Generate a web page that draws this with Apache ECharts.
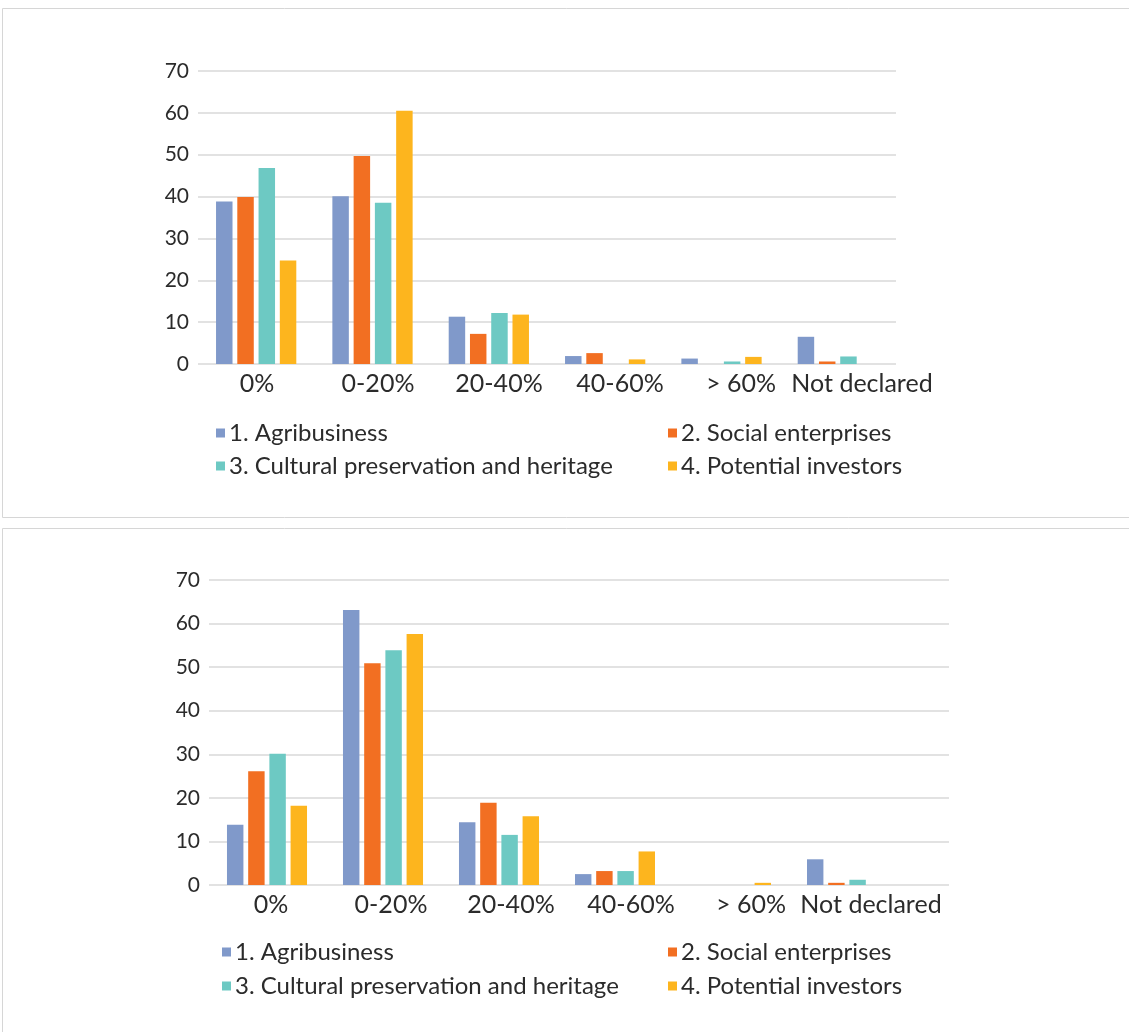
<!DOCTYPE html>
<html>
<head>
<meta charset="utf-8">
<script src="https://cdn.jsdelivr.net/npm/echarts@6/dist/echarts.min.js"></script>
<style>
html,body{margin:0;padding:0;background:#fff;}
#chart{width:1129px;height:1032px;}
</style>
</head>
<body>
<div id="chart"></div>
<script>
// ---- data ----
var categories = ['0%', '0-20%', '20-40%', '40-60%', '> 60%', 'Not declared'];
var seriesNames = ['1. Agribusiness', '2. Social enterprises', '3. Cultural preservation and heritage', '4. Potential investors'];
var colors = ['#8099CA', '#F26F22', '#6DC9C3', '#FDB51E'];
var yMin = 0, yMax = 70, yStep = 10;

// Chart 1 (top)
var agribusiness1 = [38.8, 40.1, 11.3, 1.9, 1.3, 6.5];
var social1       = [39.9, 49.7, 7.2, 2.6, 0, 0.6];
var cultural1     = [46.8, 38.5, 12.2, 0, 0.6, 1.8];
var investors1    = [24.7, 60.5, 11.8, 1.1, 1.7, 0];

// Chart 2 (bottom)
var agribusiness2 = [13.8, 63.1, 14.4, 2.5, 0, 5.9];
var social2       = [26.1, 50.9, 18.9, 3.2, 0, 0.5];
var cultural2     = [30.1, 53.9, 11.5, 3.2, 0, 1.2];
var investors2    = [18.2, 57.6, 15.8, 7.7, 0.5, 0];

var chartData = [
  [agribusiness1, social1, cultural1, investors1],
  [agribusiness2, social2, cultural2, investors2]
];

// ---- layout ----
var FONT = 'Lato';
var TXT = '#2b2b2b';
var GRIDC = '#d9d9d9';
var layouts = [
  { bars: {left:198, top:71, width:698, height:293},
    lines:{left:198, top:71, width:698, height:293},
    labels:{left:196.5, top:71, width:726, height:293},
    legend:{c1:216, c2:668, r1:421, r2:454} },
  { bars: {left:209, top:580, width:696, height:305},
    lines:{left:209, top:580, width:740, height:305},
    labels:{left:211, top:580, width:720, height:305},
    legend:{c1:222, c2:668, r1:940, r2:974} }
];

var grid = [], xAxis = [], yAxis = [], series = [], legend = [];
layouts.forEach(function (L, ci) {
  var base = grid.length;
  grid.push(Object.assign({containLabel:false}, L.bars));
  grid.push(Object.assign({containLabel:false}, L.lines));
  grid.push(Object.assign({containLabel:false}, L.labels));
  // bars grid axes
  xAxis.push({type:'category', gridIndex:base, data:categories, axisLine:{show:false}, axisTick:{show:false}, axisLabel:{show:false}});
  yAxis.push({type:'value', gridIndex:base, min:yMin, max:yMax, interval:yStep, show:false});
  // lines grid axes
  xAxis.push({type:'value', gridIndex:base+1, min:0, max:1, show:false});
  yAxis.push({type:'value', gridIndex:base+1, min:yMin, max:yMax, interval:yStep,
    axisLine:{show:false}, axisTick:{show:false},
    splitLine:{show:true, lineStyle:{color:GRIDC, width:1.5}},
    axisLabel:{show:true, color:TXT, fontFamily:FONT, fontSize:21, margin:9}});
  // labels grid axes
  xAxis.push({type:'category', gridIndex:base+2, data:categories, axisLine:{show:false}, axisTick:{show:false},
    axisLabel:{show:true, color:TXT, fontFamily:FONT, fontSize:25, margin:7, interval:0}});
  yAxis.push({type:'value', gridIndex:base+2, min:yMin, max:yMax, show:false});

  chartData[ci].forEach(function (vals, si) {
    series.push({
      type:'bar', name:seriesNames[si], xAxisIndex:base, yAxisIndex:base,
      data:vals, barGap:'29%', barCategoryGap:'31%',
      itemStyle:{color:colors[si]}, silent:true
    });
  });

  var pos = [[L.legend.c1, L.legend.r1],[L.legend.c2, L.legend.r1],[L.legend.c1, L.legend.r2],[L.legend.c2, L.legend.r2]];
  seriesNames.forEach(function (n, si) {
    legend.push({
      data:[n], left:pos[si][0], top:pos[si][1], padding:0,
      icon:'rect', itemWidth:9, itemHeight:9, selectedMode:false,
      textStyle:{color:TXT, fontFamily:FONT, fontSize:24, padding:[0,0,0,-1]}
    });
  });
});

var chart = echarts.init(document.getElementById('chart'), null, {renderer:'canvas'});
chart.setOption({
  animation:false,
  color:colors,
  grid:grid, xAxis:xAxis, yAxis:yAxis, series:series, legend:legend,
  graphic:[
    {type:'rect', shape:{x:2.5, y:8.5, width:1140, height:509}, style:{fill:'none', stroke:'#d6d6d6', lineWidth:1}, silent:true},
    {type:'rect', shape:{x:2.5, y:528.5, width:1140, height:520}, style:{fill:'none', stroke:'#d6d6d6', lineWidth:1}, silent:true}
  ]
});
</script>
</body>
</html>
